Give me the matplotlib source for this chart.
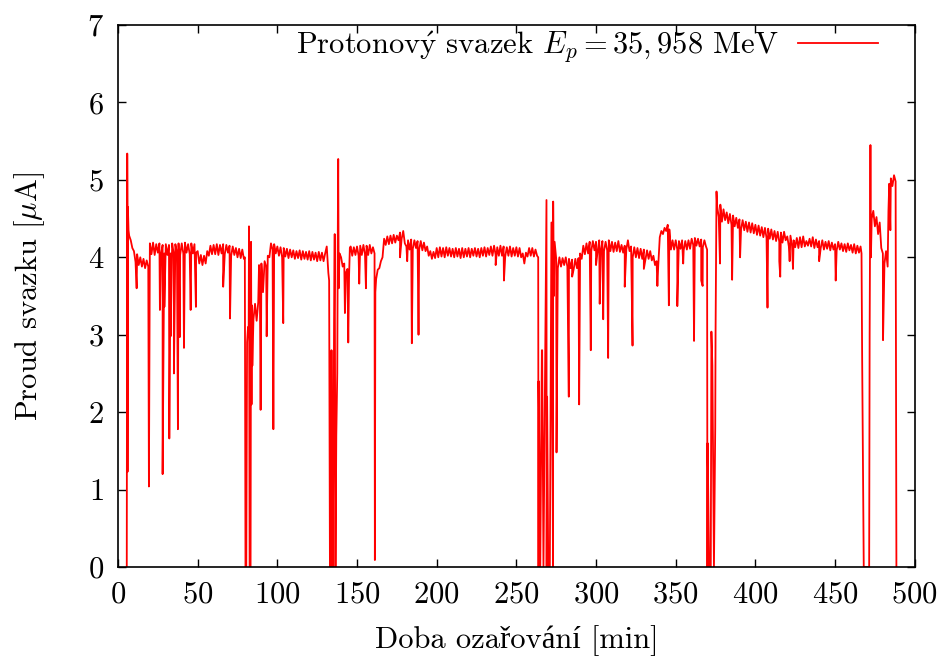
import numpy as np
import matplotlib
matplotlib.use('Agg')
import matplotlib.pyplot as plt
from matplotlib.ticker import MultipleLocator

plt.rcParams['font.family'] = ['cmr10', 'Liberation Serif']
plt.rcParams['mathtext.fontset'] = 'cm'
plt.rcParams['axes.formatter.use_mathtext'] = True

# baseline current, one value per minute from t = 6 to t = 488 min
t_base = np.arange(6, 489)
i_base = [
    4.45, 4.28, 4.22, 4.12,
    4.08, 3.94, 4.04, 3.90, 4.00, 3.88, 3.98, 3.86, 3.96, 3.88,
    4.18, 4.04, 4.19, 4.03, 4.17, 4.06, 4.18, 4.04, 4.16, 4.05,
    4.17, 4.03, 4.16, 4.05, 4.18, 4.04, 4.17, 4.06, 4.18, 4.03,
    4.18, 4.05, 4.19, 4.06, 4.17, 4.04, 4.18, 4.05, 4.17, 4.06,
    4.08, 3.92, 4.03, 3.90, 4.02, 3.92, 4.08, 4.02, 4.15, 4.04,
    4.16, 4.04, 4.17, 4.03, 4.16, 4.05, 4.17, 4.04, 4.16, 4.06,
    4.15, 4.02, 4.14, 4.03, 4.12, 4.00, 4.11, 3.99, 4.10, 3.98,
    0.00, 2.90, 3.00, 0.00, 3.38, 3.20, 3.40, 3.18, 3.42, 3.75,
    3.92, 3.55, 3.95, 3.88, 4.02, 4.00, 4.18, 4.10, 4.17, 4.05,
    4.14, 4.02, 4.13, 4.00, 4.12, 4.01, 4.11, 3.99, 4.10, 4.00,
    4.09, 3.98, 4.08, 3.99, 4.09, 3.97, 4.08, 3.98, 4.07, 3.97,
    4.08, 3.96, 4.07, 3.97, 4.06, 3.95, 4.07, 3.96, 4.06, 3.95,
    4.05, 4.14, 3.80, 0.00, 2.80, 0.00, 4.30, 1.70, 4.60, 4.05,
    4.00, 3.88, 3.92, 3.80, 3.85, 3.75, 4.14, 4.02, 4.13, 4.03,
    4.14, 4.02, 4.15, 4.03, 4.16, 4.04, 4.15, 4.03, 4.16, 4.05,
    4.13, 4.05, 3.72, 3.84, 3.86, 3.95, 4.00, 4.24, 4.16, 4.27,
    4.17, 4.28, 4.18, 4.29, 4.19, 4.28, 4.22, 4.32, 4.24, 4.34,
    4.18, 4.14, 4.22, 4.10, 4.23, 4.11, 4.22, 4.12, 4.21, 4.10,
    4.21, 4.09, 4.19, 4.08, 4.14, 4.02, 4.08, 3.98, 4.07, 3.99,
    4.12, 4.00, 4.13, 4.01, 4.12, 4.00, 4.13, 4.02, 4.12, 4.01,
    4.11, 4.00, 4.12, 4.01, 4.11, 3.99, 4.12, 4.00, 4.11, 4.01,
    4.12, 4.00, 4.11, 4.02, 4.12, 4.01, 4.11, 4.00, 4.12, 4.02,
    4.13, 4.01, 4.12, 4.03, 4.14, 4.02, 4.15, 4.03, 4.13, 4.02,
    4.15, 4.02, 4.14, 4.01, 4.13, 4.02, 4.14, 4.01, 4.12, 4.02,
    4.13, 4.01, 4.12, 4.00, 4.05, 3.92, 4.06, 4.01, 4.12, 4.02,
    4.12, 4.01, 4.10, 4.02, 2.40, 0.00, 2.80, 0.00, 2.50, 0.00,
    0.00, 0.00, 4.45, 0.00, 4.20, 3.98, 3.86, 4.00, 3.88, 3.99,
    3.90, 4.00, 3.88, 3.98, 3.86, 3.97, 3.85, 3.98, 3.86, 3.99,
    4.05, 3.98, 4.15, 4.04, 4.18, 4.05, 4.20, 4.08, 4.21, 4.09,
    4.20, 4.08, 4.22, 4.09, 4.21, 4.08, 4.20, 4.09, 4.22, 4.08,
    4.20, 4.07, 4.19, 4.08, 4.21, 4.07, 4.16, 4.06, 4.15, 4.10,
    4.22, 4.08, 4.14, 4.00, 4.13, 4.00, 4.12, 3.99, 4.11, 3.98,
    4.10, 3.97, 4.09, 3.98, 4.08, 3.96, 4.02, 3.90, 3.95, 3.88,
    4.26, 4.34, 4.30, 4.38, 4.34, 4.42, 4.36, 4.10, 4.22, 4.10,
    4.22, 4.10, 4.21, 4.11, 4.22, 4.09, 4.21, 4.10, 4.22, 4.11,
    4.24, 4.16, 4.25, 4.15, 4.24, 4.14, 4.23, 4.13, 4.22, 4.14,
    1.60, 0.00, 0.00, 2.60, 0.00, 3.00, 4.66, 4.52, 4.68, 4.46,
    4.62, 4.48, 4.58, 4.44, 4.56, 4.42, 4.54, 4.40, 4.51, 4.38,
    4.49, 4.36, 4.48, 4.35, 4.46, 4.33, 4.45, 4.32, 4.44, 4.31,
    4.42, 4.29, 4.41, 4.28, 4.39, 4.26, 4.38, 4.25, 4.37, 4.24,
    4.36, 4.23, 4.34, 4.21, 4.33, 4.20, 4.32, 4.19, 4.33, 4.22,
    4.27, 4.14, 4.28, 4.15, 4.22, 4.13, 4.25, 4.12, 4.26, 4.13,
    4.27, 4.14, 4.21, 4.15, 4.24, 4.14, 4.26, 4.12, 4.23, 4.13,
    4.21, 4.12, 4.22, 4.10, 4.20, 4.11, 4.21, 4.09, 4.19, 4.10,
    4.17, 4.09, 4.20, 4.10, 4.18, 4.08, 4.17, 4.07, 4.18, 4.09,
    4.16, 4.06, 4.17, 4.05, 4.15, 4.06, 4.14, 2.70, 0.00, 0.00,
    0.00, 0.00, 4.62, 4.50, 4.60, 4.40, 4.52, 4.30, 4.45, 4.12,
    4.05, 3.92, 4.08, 3.88, 4.95, 5.02, 4.92, 5.06, 4.98,
]

# short spikes and dropouts between the minute samples
t_spike = [5.5, 5.8, 6.0, 6.2, 6.6, 11.7, 19.4, 26.3, 28.0, 29.1, 32.2, 33.0,
           35.1, 37.6, 38.8, 41.4, 45.6, 48.9, 66.0, 70.3,
           79.6, 80.5, 81.6, 82.2, 82.6, 83.2, 83.5, 83.8, 84.3, 88.5, 89.5,
           93.3, 97.5, 103.7,
           132.5, 133.6, 134.5, 135.6, 136.5, 137.6, 138.2, 138.5,
           142.4, 144.5, 145.5, 151.4, 155.6, 161.2, 161.5, 177.0, 181.5,
           184.4, 188.6, 237.0, 242.2,
           263.7, 263.9, 266.2, 268.9, 269.3, 273.1, 273.5, 275.2,
           282.9, 285.0, 289.4, 296.7, 300.0, 302.3, 304.5, 307.6, 318.0,
           322.9, 330.0, 338.5, 345.7, 351.0, 354.7, 361.5, 366.0, 366.9,
           369.7, 369.9, 372.4, 374.8, 375.6, 377.8, 385.4, 390.4, 407.6,
           415.0, 415.6, 421.5, 423.6, 440.0, 450.4,
           466.6, 466.8, 471.4, 471.7, 472.2, 472.5, 480.1, 483.5, 484.7,
           488.5]
i_spike = [0.00, 5.34, 1.23, 4.65, 4.35, 3.60, 1.04, 3.32, 1.20, 3.36, 1.66, 2.98,
           2.50, 1.78, 2.97, 2.83, 3.32, 3.36, 3.62, 3.21,
           4.00, 0.00, 3.10, 4.40, 0.00, 0.00, 4.20, 2.10, 2.60, 3.90, 2.03,
           2.98, 1.78, 3.15,
           3.70, 0.00, 0.00, 3.20, 0.00, 2.50, 5.27, 3.60,
           3.28, 2.90, 4.12, 3.66, 3.60, 0.09, 3.55, 4.00, 3.95,
           2.89, 3.00, 3.90, 3.70,
           4.00, 0.00, 2.80, 4.74, 2.20, 4.72, 3.50, 1.48,
           2.20, 3.75, 2.10, 2.80, 3.90, 3.40, 3.20, 2.70, 3.62,
           2.86, 3.85, 3.63, 3.38, 3.37, 3.92, 2.92, 3.70, 3.63,
           4.10, 0.00, 3.04, 1.80, 4.85, 3.92, 3.71, 4.00, 3.35,
           3.95, 3.75, 3.95, 3.85, 3.95, 3.70,
           4.05, 3.40, 0.00, 3.00, 5.45, 4.00, 2.93, 4.60, 4.35,
           0.00]

t_all = np.concatenate([t_base, t_spike])
i_all = np.concatenate([i_base, i_spike])
order = np.argsort(t_all, kind='stable')
t_all = t_all[order]
i_all = i_all[order]

fig = plt.figure(figsize=(9.44, 6.59), dpi=100)
ax = fig.add_axes([0.125, 0.1396, 0.844, 0.8224])

ax.plot(t_all, i_all, color='red', lw=1.3,
        label=r'Protonov$\mathrm{\acute{y}}$ svazek $E_p = 35,958$ MeV')

ax.set_xlim(0, 500)
ax.set_ylim(0, 7)
ax.xaxis.set_major_locator(MultipleLocator(50))
ax.yaxis.set_major_locator(MultipleLocator(1))
ax.tick_params(direction='in', length=6, width=1, top=True, right=True,
               labelsize=22, pad=10)
for s in ax.spines.values():
    s.set_linewidth(1.2)

ax.set_xlabel('Doba ozařování [min]', fontsize=22, labelpad=12)
ax.set_ylabel(r'Proud svazku [$\mu$A]', fontsize=22, labelpad=29)

ax.legend(loc='upper right', bbox_to_anchor=(0.9536, 0.992), frameon=False,
          markerfirst=False, fontsize=22, handlelength=2.6, handletextpad=0.65,
          borderpad=0, borderaxespad=0)

fig.savefig('out.png', dpi=100)
